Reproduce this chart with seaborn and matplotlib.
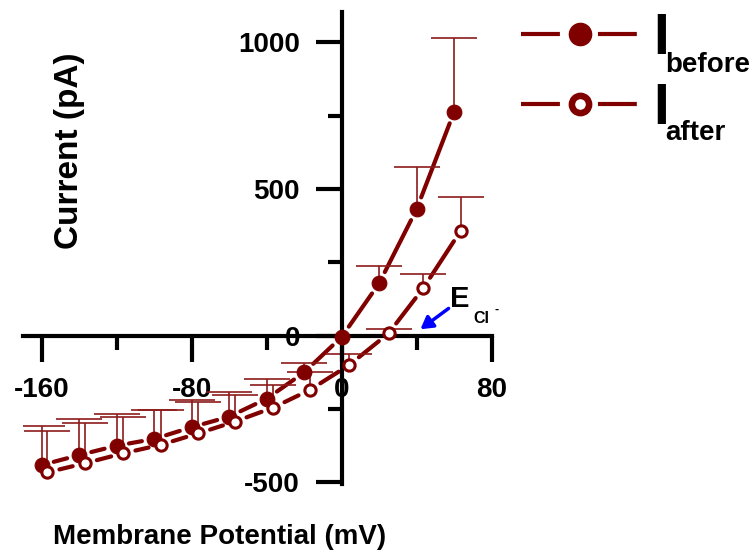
import matplotlib
matplotlib.use("Agg")
import matplotlib.pyplot as plt
from matplotlib.lines import Line2D
from matplotlib.ticker import MultipleLocator
import numpy as np
import pandas as pd
import seaborn as sns

# ---------------- data ----------------
v_before = [-160, -140, -120, -100, -80, -60, -40, -20, 0, 20, 40, 60]
i_before = [-441, -407, -375, -352, -312, -276, -215, -125, -4, 179, 432, 764]
err_before = [134, 123, 108, 100, 93, 85, 68, 33, 4, 59, 142, 252]

v_after = [-157, -137, -116.5, -96.5, -76.5, -57, -36.5, -17, 4, 25, 43.5, 63.5]
i_after = [-466, -435, -401, -372, -333, -293, -245, -185, -100, 8, 162, 358]
err_after = [142, 136, 125, 120, 107, 90, 76, 62, 36, 14, 49, 115]

x_ticks = [-160, -80, 0, 80]
y_ticks = [-500, 0, 500, 1000]
x_label = "Membrane Potential (mV)"
y_label = "Current (pA)"
legend_labels = ["before", "after"]

# ---------------- style ----------------
sns.set_theme(style="white")
plt.rcParams["font.family"] = ["Liberation Sans", "DejaVu Sans"]
plt.rcParams["font.weight"] = "bold"
plt.rcParams["lines.scale_dashes"] = False
plt.rcParams["axes.unicode_minus"] = False
plt.rcParams["text.color"] = "black"
plt.rcParams["axes.labelcolor"] = "black"
plt.rcParams["xtick.color"] = "black"
plt.rcParams["ytick.color"] = "black"

MAROON = "#800000"
ERRC = "#8e1b1b"

fig = plt.figure(figsize=(7.54, 5.54), dpi=100)
ax = fig.add_axes([0.0304, 0.1267, 0.6217, 0.8523])
ax.set_xlim(-170, 80)
ax.set_ylim(-505, 1105)

df_b = pd.DataFrame({"V": v_before, "I": i_before})
df_a = pd.DataFrame({"V": v_after, "I": i_after})

# connecting lines with gaps at the symbols
for vs, cs in ((v_before, i_before), (v_after, i_after)):
    for k in range(len(vs) - 1):
        ax.annotate("", xy=(vs[k + 1], cs[k + 1]), xytext=(vs[k], cs[k]),
                    arrowprops=dict(arrowstyle="-", color=MAROON, lw=3,
                                    shrinkA=9, shrinkB=9, capstyle="round"),
                    zorder=2)

# upper error bars only
for vs, cs, es in ((v_before, i_before, err_before),
                   (v_after, i_after, err_after)):
    eb = ax.errorbar(vs, cs, yerr=[np.zeros(len(es)), es], fmt="none",
                     ecolor=ERRC, elinewidth=1.2, capsize=16.5, capthick=1.2,
                     zorder=2.3)
    caps = eb[1]
    if len(caps) == 2:
        caps[0].set_visible(False)

# symbols
sns.scatterplot(data=df_b, x="V", y="I", ax=ax, s=112, color=MAROON,
                edgecolor=MAROON, linewidth=0.8, zorder=3, legend=False)
sns.scatterplot(data=df_a, x="V", y="I", ax=ax, s=66, facecolor="white",
                edgecolor=MAROON, linewidth=2.2, zorder=3.5, legend=False)

# ---------------- axes ----------------
for s in ("top", "right"):
    ax.spines[s].set_visible(False)
ax.spines["left"].set_position(("data", 0))
ax.spines["bottom"].set_position(("data", 0))
for s in ("left", "bottom"):
    ax.spines[s].set_linewidth(3)
    ax.spines[s].set_color("black")
    ax.spines[s].set_capstyle("projecting")
    ax.spines[s].set_zorder(2.6)

ax.set_xticks(x_ticks)
ax.set_yticks(y_ticks)
ax.xaxis.set_minor_locator(MultipleLocator(40))
ax.yaxis.set_minor_locator(MultipleLocator(250))
ax.tick_params(which="major", direction="out", length=19, width=3, color="black",
               labelsize=20, pad=11, labelcolor="black")
ax.tick_params(which="minor", direction="out", length=10, width=3, color="black")
ax.tick_params(axis="x", which="both", bottom=True)
ax.tick_params(axis="y", which="both", left=True)
for lab in ax.get_xticklabels() + ax.get_yticklabels():
    lab.set_fontweight("bold")
ax.grid(False)

ax.set_xlabel(x_label, fontsize=20, fontweight="bold", color="black")
ax.set_ylabel(y_label, fontsize=24, fontweight="bold", color="black")
ax.xaxis.set_label_coords(0.42, -0.085)
ax.yaxis.set_label_coords(0.132, 0.705)

# ---------------- E_Cl annotation ----------------
ax.annotate("", xy=(42, 22), xytext=(57, 93),
            arrowprops=dict(arrowstyle="-|>,head_length=0.6,head_width=0.35",
                            color="#0000ff", lw=2.5, shrinkA=0, shrinkB=0))
ax.text(58, 97, "E", fontsize=21, fontweight="bold", color="black",
        ha="left", va="baseline")
ax.text(70.5, 43, "Cl", fontsize=11.5, fontweight="bold", color="black",
        ha="left", va="baseline")
ax.text(81.5, 78, "-", fontsize=9, fontweight="bold", color="black",
        ha="left", va="baseline")

# ---------------- legend ----------------
dash = (0, (28, 27.4))
h1 = Line2D([], [], color=MAROON, lw=3, linestyle=dash, marker="o",
            markersize=16, markerfacecolor=MAROON, markeredgecolor=MAROON,
            markeredgewidth=1)
h2 = Line2D([], [], color=MAROON, lw=3, linestyle=dash, marker="o",
            markersize=12.4, markerfacecolor="white", markeredgecolor=MAROON,
            markeredgewidth=4.7)
leg = fig.legend(handles=[h1, h2], labels=["I", "I"], loc="upper left",
                 bbox_to_anchor=(0.691, 0.978), frameon=False, borderpad=0,
                 borderaxespad=0, handlelength=2.06, handletextpad=0.27,
                 labelspacing=0.27, numpoints=1, labelcolor="black",
                 prop={"size": 41, "weight": "bold"})
fig.text(665 / 754, 1 - 72 / 554, legend_labels[0], fontsize=20,
         fontweight="bold", color="black", ha="left", va="baseline")
fig.text(665 / 754, 1 - 140 / 554, legend_labels[1], fontsize=20,
         fontweight="bold", color="black", ha="left", va="baseline")

fig.savefig("out.png", dpi=100, facecolor="white")
